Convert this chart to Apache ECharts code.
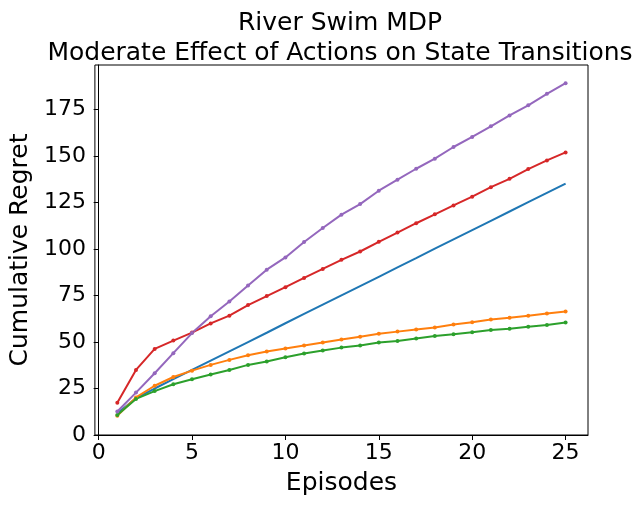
<!DOCTYPE html>
<html>
<head>
<meta charset="utf-8">
<script src="https://cdn.jsdelivr.net/npm/echarts@6/dist/echarts.min.js"></script>
<style>html,body{margin:0;padding:0;background:#fff;}#c{width:643px;height:507px;}</style>
</head>
<body>
<div id="c"></div>
<script>
var episodes = [1,2,3,4,5,6,7,8,9,10,11,12,13,14,15,16,17,18,19,20,21,22,23,24,25];
var blueVals = [11.7,19.8,25.0,30.0,35.0,40.0,45.0,50.0,55.0,60.1,65.1,70.1,75.1,80.1,85.1,90.1,95.1,100.2,105.2,110.2,115.2,120.2,125.2,130.2,135.2];
var orangeVals = [10.4,20.2,26.5,31.2,34.6,37.7,40.4,42.9,44.9,46.5,48.1,49.7,51.4,52.9,54.4,55.6,56.7,57.8,59.4,60.7,62.1,63.0,64.1,65.3,66.4];
var greenVals = [10.8,19.4,23.6,27.3,30.0,32.5,35.0,37.7,39.5,41.8,43.8,45.4,47.0,48.1,49.7,50.6,51.9,53.3,54.2,55.3,56.5,57.2,58.2,59.2,60.5];
var redVals = [17.4,35.0,46.3,50.8,55.1,60.0,64.2,69.9,74.7,79.5,84.5,89.3,94.2,98.7,103.9,108.9,113.9,118.7,123.5,128.2,133.3,137.8,143.0,147.7,152.0];
var purpleVals = [12.6,22.8,33.2,44.0,54.8,63.9,71.8,80.4,88.9,95.5,103.8,111.3,118.5,124.2,131.4,137.3,143.2,148.6,154.9,160.3,166.0,171.9,177.3,183.5,189.2];
var xTicks = [0,5,10,15,20,25];
var yTicks = [0,25,50,75,100,125,150,175];
var titleText = 'River Swim MDP\nModerate Effect of Actions on State Transitions';
var xName = 'Episodes';
var yName = 'Cumulative Regret';

function pairs(vals){ return episodes.map(function(x,i){ return [x, vals[i]]; }); }
function mk(vals, color, showSym){
  return {
    type:'line', data:pairs(vals), showSymbol:showSym, symbol:'circle', symbolSize:4,
    lineStyle:{color:color, width:2}, itemStyle:{color:color}, animation:false, z:2
  };
}
var font = 'DejaVu Sans';
var chart = echarts.init(document.getElementById('c'));
chart.setOption({
  backgroundColor:'#fff',
  animation:false,
  title:{ text:titleText, left:335, textAlign:'center', top:3,
    textStyle:{fontFamily:font, fontSize:25, fontWeight:'normal', color:'#000', lineHeight:30} },
  grid:{ left:93, right:55, top:65, bottom:72, show:true, borderColor:'#000', borderWidth:1, backgroundColor:'transparent' },
  xAxis:{ type:'value', min:-0.2, max:26.2,
    name:xName, nameLocation:'middle', nameGap:36,
    nameTextStyle:{fontFamily:font, fontSize:25, color:'#000'},
    axisLine:{show:true, lineStyle:{color:'#000', width:1}},
    axisTick:{show:true, inside:false, length:5, customValues:xTicks, lineStyle:{color:'#000'}},
    axisLabel:{customValues:xTicks, margin:7, fontFamily:font, fontSize:22, color:'#000'},
    splitLine:{show:false} },
  yAxis:{ type:'value', min:0, max:199,
    name:yName, nameLocation:'middle', nameGap:54,
    nameTextStyle:{fontFamily:font, fontSize:25, color:'#000'},
    axisLine:{show:true, lineStyle:{color:'#000', width:1}},
    axisTick:{show:true, inside:false, length:5, customValues:yTicks, lineStyle:{color:'#000'}},
    axisLabel:{customValues:yTicks, margin:9, fontFamily:font, fontSize:22, color:'#000'},
    splitLine:{show:false} },
  series:[
    mk(blueVals,'#1f77b4',false),
    mk(orangeVals,'#ff7f0e',true),
    mk(greenVals,'#2ca02c',true),
    mk(redVals,'#d62728',true),
    mk(purpleVals,'#9467bd',true)
  ]
});
</script>
</body>
</html>
